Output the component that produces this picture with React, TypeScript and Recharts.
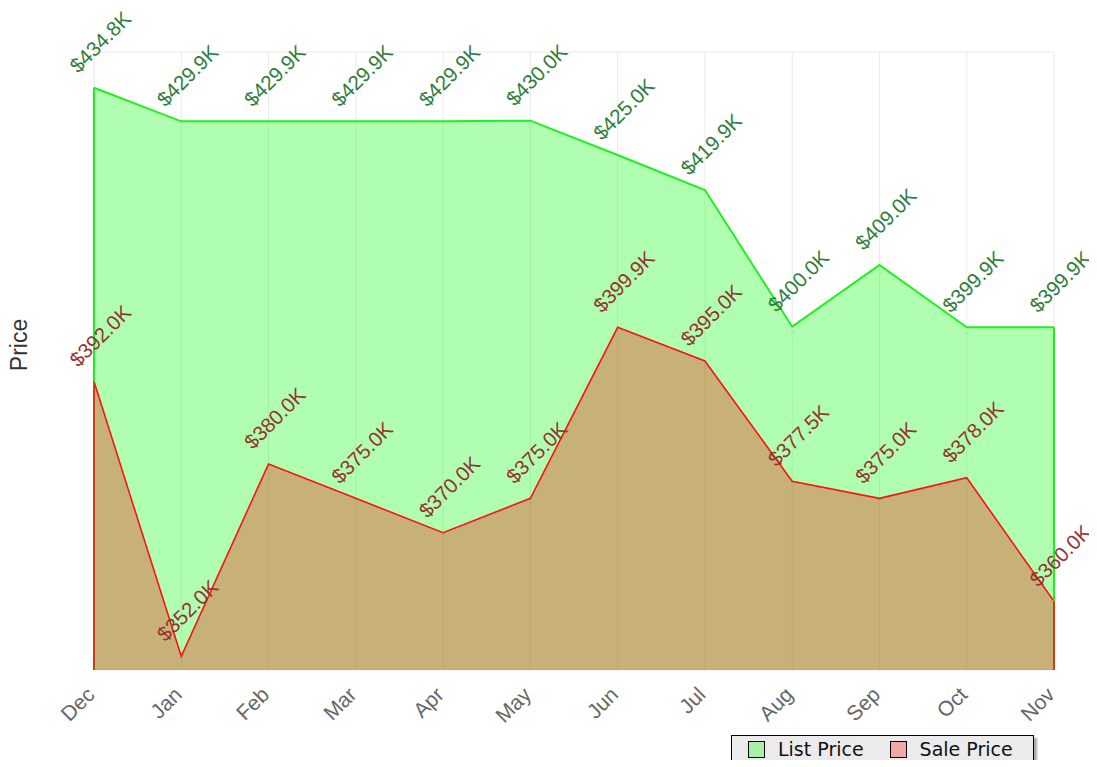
import React from 'react';
import { AreaChart, Area, XAxis, YAxis, CartesianGrid, LabelList, ReferenceLine } from 'recharts';

const months = ['Dec', 'Jan', 'Feb', 'Mar', 'Apr', 'May', 'Jun', 'Jul', 'Aug', 'Sep', 'Oct', 'Nov'];
const listPrice = [434.8, 429.9, 429.9, 429.9, 429.9, 430.0, 425.0, 419.9, 400.0, 409.0, 399.9, 399.9];
const salePrice = [392.0, 352.0, 380.0, 375.0, 370.0, 375.0, 399.9, 395.0, 377.5, 375.0, 378.0, 360.0];
const yTicks = [350, 360, 370, 380, 390, 400, 410, 420, 430, 440];
const seriesNames = ['List Price', 'Sale Price'];
const axisTitle = 'Price';

const data = months.map((m, i) => ({ month: m, list: listPrice[i], sale: salePrice[i] }));
const yMin = yTicks[0];
const yMax = yTicks[yTicks.length - 1];
const firstIdx = 0;
const lastIdx = months.length - 1;

const fmt = (v: number) => `$${v.toFixed(1)}K`;
const labelFont = '"Liberation Sans", Arial, sans-serif';

const makeLabel = (color: string) => (props: any) => {
  const { x, y, value } = props;
  const cx = x + 6;
  const cy = y - 46;
  return (
    <text
      x={cx}
      y={cy}
      fill={color}
      fontSize={20.5}
      fontFamily={labelFont}
      textAnchor="middle"
      dominantBaseline="central"
      transform={`rotate(-45 ${cx} ${cy})`}
    >
      {fmt(value)}
    </text>
  );
};

const XTick = (props: any) => {
  const { x, y, payload } = props;
  const tx = x + 2;
  const ty = y + 18;
  return (
    <text
      x={tx}
      y={ty}
      fill="#666"
      fontSize={21}
      fontFamily={labelFont}
      textAnchor="end"
      transform={`rotate(-45 ${tx} ${ty})`}
    >
      {payload.value}
    </text>
  );
};

const YTitle = (props: any) => {
  const { viewBox } = props;
  const cx = 11;
  const cy = viewBox.y + viewBox.height / 2 - 16;
  return (
    <text
      x={cx}
      y={cy}
      fill="#333"
      fontSize={23}
      fontFamily={labelFont}
      textAnchor="middle"
      dominantBaseline="central"
      transform={`rotate(-90 ${cx} ${cy})`}
    >
      {axisTitle}
    </text>
  );
};

const swatchColors = ['#a8f0a8', '#f0a8a8'];
const listStroke = '#22ee22';
const saleStroke = '#ff1111';

export default function App() {
  return (
    <div style={{ position: 'relative', width: 1089, height: 752 }}>
      <style>{`svg.recharts-surface { overflow: visible; }`}</style>
      <AreaChart
        width={1089}
        height={752}
        data={data}
        margin={{ top: 44, right: 43, left: 0, bottom: 30 }}
      >
        <CartesianGrid stroke="#ebebeb" strokeWidth={1} />
        <XAxis
          dataKey="month"
          axisLine={false}
          tickLine={false}
          interval={0}
          height={60}
          tick={<XTick />}
        />
        <YAxis
          domain={[yMin, yMax]}
          ticks={yTicks}
          tick={false}
          axisLine={false}
          tickLine={false}
          width={86}
          label={<YTitle />}
        />
        <Area
          type="linear"
          dataKey="list"
          baseValue={yMin}
          stroke={listStroke}
          strokeWidth={2}
          fill="#00ff00"
          fillOpacity={0.31}
          isAnimationActive={false}
          dot={false}
          activeDot={false}
        />
        <ReferenceLine
          segment={[{ x: months[firstIdx], y: yMin }, { x: months[firstIdx], y: listPrice[firstIdx] }]}
          stroke={listStroke}
          strokeWidth={2}
        />
        <ReferenceLine
          segment={[{ x: months[lastIdx], y: yMin }, { x: months[lastIdx], y: listPrice[lastIdx] }]}
          stroke={listStroke}
          strokeWidth={2}
        />
        <Area
          type="linear"
          dataKey="sale"
          baseValue={yMin}
          stroke={saleStroke}
          strokeWidth={1.6}
          fill="#ff0000"
          fillOpacity={0.31}
          isAnimationActive={false}
          dot={false}
          activeDot={false}
        />
        <ReferenceLine
          segment={[{ x: months[firstIdx], y: yMin }, { x: months[firstIdx], y: salePrice[firstIdx] }]}
          stroke={saleStroke}
          strokeWidth={1.6}
        />
        <ReferenceLine
          segment={[{ x: months[lastIdx], y: yMin }, { x: months[lastIdx], y: salePrice[lastIdx] }]}
          stroke={saleStroke}
          strokeWidth={1.6}
        />
        <Area
          type="linear"
          dataKey="sale"
          baseValue={yMin}
          stroke="none"
          fill="none"
          isAnimationActive={false}
          dot={false}
          activeDot={false}
          legendType="none"
        >
          <LabelList dataKey="sale" content={makeLabel('#963232')} />
        </Area>
        <Area
          type="linear"
          dataKey="list"
          baseValue={yMin}
          stroke="none"
          fill="none"
          isAnimationActive={false}
          dot={false}
          activeDot={false}
          legendType="none"
        >
          <LabelList dataKey="list" content={makeLabel('#2e7d3c')} />
        </Area>
      </AreaChart>
      <div
        style={{
          position: 'absolute',
          left: 723,
          top: 727,
          width: 301,
          height: 26,
          background: '#ebebeb',
          border: '1px solid #000',
          boxShadow: '3px 3px 2px #aaa',
          display: 'flex',
          alignItems: 'center',
          fontFamily: '"DejaVu Sans", Verdana, sans-serif',
          fontSize: 19,
          color: '#111',
        }}
      >
        {seriesNames.map((name, i) => (
          <div key={name} style={{ display: 'flex', alignItems: 'center', marginLeft: i === 0 ? 16 : 26 }}>
            <div
              style={{
                width: 15,
                height: 15,
                background: swatchColors[i],
                border: '1px solid #000',
                marginRight: 13,
              }}
            />
            <span>{name}</span>
          </div>
        ))}
      </div>
    </div>
  );
}
